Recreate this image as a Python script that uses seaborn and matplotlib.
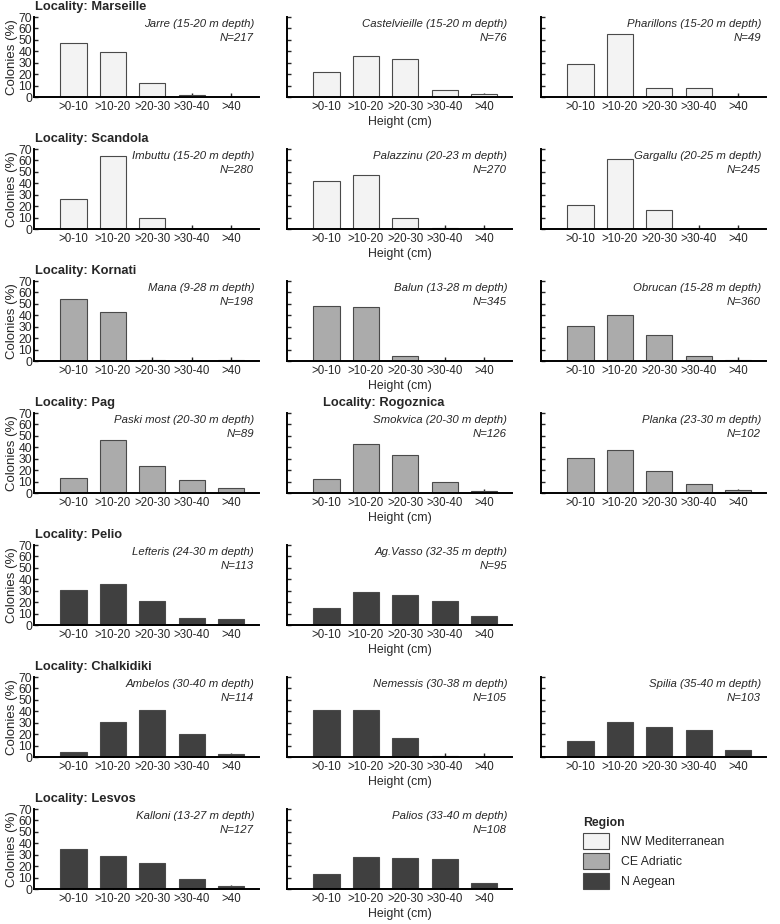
import numpy as np
import pandas as pd
import matplotlib
matplotlib.use("Agg")
import matplotlib.pyplot as plt
import seaborn as sns
from matplotlib.patches import Patch

# Datos
height_classes = [">0-10", ">10-20", ">20-30", ">30-40", ">40"]

sites = ["Jarre", "Castelvieille", "Pharillons",
         "Imbuttu", "Palazzinu", "Gargallu",
         "Mana", "Balun", "Obrucan",
         "Paski most", "Smokvica", "Planka",
         "Lefteris", "Ag.Vasso",
         "Ambelos", "Nemessis", "Spilia",
         "Kalloni", "Palios"]
depths = ["15-20", "15-20", "15-20",
          "15-20", "20-23", "20-25",
          "9-28", "13-28", "15-28",
          "20-30", "20-30", "23-30",
          "24-30", "32-35",
          "30-40", "30-38", "35-40",
          "13-27", "33-40"]
n_colonies = [217, 76, 49, 280, 270, 245, 198, 345, 360, 89, 126, 102,
              113, 95, 114, 105, 103, 127, 108]
site_region = ["NW Mediterranean"] * 6 + ["CE Adriatic"] * 6 + ["N Aegean"] * 7

percent = [
    [47, 39, 12, 2, 0],
    [22, 36, 33, 6, 3],
    [29, 55, 8, 8, 0],
    [26, 64, 10, 0, 0],
    [42, 47, 10, 1, 0],
    [21, 61, 17, 0, 0],
    [54, 43, 1.2, 0, 0.6],
    [48, 47, 4, 0, 0],
    [31, 40, 23, 4, 1],
    [13, 46, 24, 11, 4],
    [12, 43, 33, 10, 1.5],
    [31, 38, 19, 8, 3],
    [31, 36, 21, 6, 5],
    [15, 29, 26, 21, 8],
    [4, 31, 41, 20, 3],
    [41, 41, 17, 1, 0],
    [14, 31, 26, 24, 6],
    [35, 29, 23, 9, 3],
    [13, 28, 27, 26, 5],
]

localities = ["Marseille", "Scandola", "Kornati", "Pag", "Rogoznica", "Pelio", "Chalkidiki", "Lesvos"]

region_names = ["NW Mediterranean", "CE Adriatic", "N Aegean"]
region_colors = {"NW Mediterranean": "#f3f3f3", "CE Adriatic": "#ababab", "N Aegean": "#404040"}

# posicion (fila, columna) de cada panel
panel_pos = [(0, 0), (0, 1), (0, 2), (1, 0), (1, 1), (1, 2), (2, 0), (2, 1), (2, 2),
             (3, 0), (3, 1), (3, 2), (4, 0), (4, 1), (5, 0), (5, 1), (5, 2), (6, 0), (6, 1)]
locality_pos = [(0, 35, "left"), (1, 35, "left"), (2, 35, "left"), (3, 35, "left"),
                (3, 384, "center"), (4, 35, "left"), (5, 35, "left"), (6, 35, "left")]

df = pd.DataFrame({
    "site": np.repeat(sites, len(height_classes)),
    "height": height_classes * len(sites),
    "pct": np.concatenate(percent),
})

sns.set_style("ticks")
plt.rcParams["font.family"] = ["Liberation Sans", "DejaVu Sans"]

W, H = 780, 924
fig = plt.figure(figsize=(W / 100, H / 100), dpi=100)

col_left = [34, 287, 541]
ax_w, ax_h = 225, 80
row_step = 132


def px_axes(x, y0):
    return [x / W, 1 - y0 / H, ax_w / W, ax_h / H]


for i, site in enumerate(sites):
    r, c = panel_pos[i]
    y0 = 97 + row_step * r
    ax = fig.add_axes(px_axes(col_left[c], y0))
    sub = df[df["site"] == site]
    sns.barplot(data=sub, x="height", y="pct", order=height_classes,
                color=region_colors[site_region[i]], saturation=1,
                edgecolor="#4a4a4a", linewidth=0.8, width=0.66, ax=ax)
    ax.set_xlim(-1, 4.7)
    ax.set_ylim(0, 70)
    ax.set_yticks(range(0, 71, 10))
    sns.despine(ax=ax)
    ax.spines["left"].set_bounds(0, 70)
    for s in ["left", "bottom"]:
        ax.spines[s].set_linewidth(1.4)
        ax.spines[s].set_color("black")
    ax.tick_params(direction="in", length=3, width=1, labelsize=8.3, pad=3)
    ax.tick_params(axis="y", labelsize=8.8, pad=1.5)
    if c == 0:
        ax.set_ylabel("Colonies (%)", fontsize=9.5, labelpad=0.5)
    else:
        ax.set_ylabel("")
        ax.set_yticklabels([])
    if c == 1:
        ax.set_xlabel("Height (cm)", fontsize=8.8, labelpad=2)
    else:
        ax.set_xlabel("")
    ax.text(0.978, 0.97, f"{site} ({depths[i]} m depth)\nN={n_colonies[i]}",
            transform=ax.transAxes, ha="right", va="top", style="italic",
            fontsize=8.2, linespacing=1.5)

for k, name in enumerate(localities):
    r, x, ha = locality_pos[k]
    fig.text(x / W, 1 - (7 + row_step * r) / H, f"Locality: {name}",
             ha=ha, va="center", fontsize=9.3, fontweight="bold")

handles = [Patch(facecolor=region_colors[n], edgecolor="#4a4a4a", linewidth=0.8, label=n)
           for n in region_names]
fig.legend(handles=handles, title="Region", loc="upper left",
           bbox_to_anchor=(572 / W, 1 - 806 / H), frameon=False,
           fontsize=8.8, title_fontproperties={"weight": "bold", "size": 8.8},
           handlelength=2.1, handleheight=1.6, labelspacing=0.35,
           handletextpad=1.0, alignment="left")

fig.savefig("out.png", dpi=100)
